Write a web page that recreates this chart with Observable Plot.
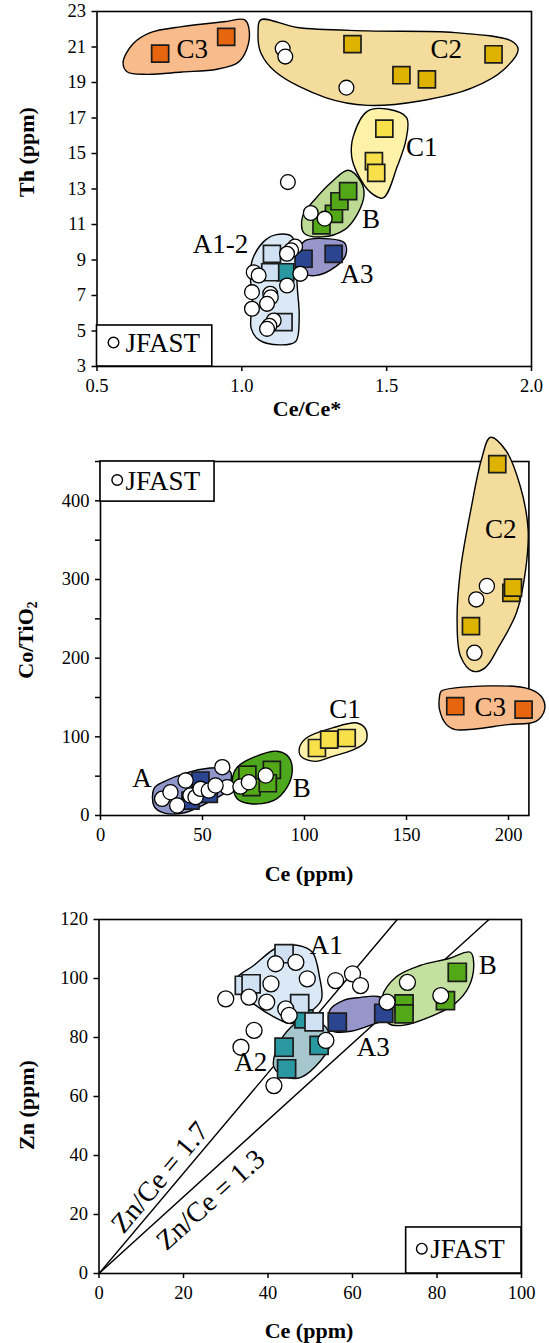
<!DOCTYPE html>
<html><head><meta charset="utf-8">
<script src="https://cdn.jsdelivr.net/npm/d3@7"></script>
<script src="https://cdn.jsdelivr.net/npm/@observablehq/plot@0.6"></script>
<style>
body{margin:0;background:#fff;}
#chart svg{display:block;}
</style></head><body><div id="chart"></div>
<script>
// ---------- Panel 1: Th vs Ce/Ce* ----------
const p1_C3 = [[0.718,20.63],[0.946,21.57]];
const p1_C2 = [[1.382,21.16],[1.551,19.41],[1.639,19.18],[1.869,20.59]];
const p1_C1 = [[1.492,16.40],[1.456,14.57],[1.464,13.91]];
const p1_B  = [[1.275,10.95],[1.318,11.60],[1.337,12.31],[1.367,12.88]];
const p1_A3 = [[1.213,9.07],[1.317,9.35]];
const p1_A2 = [[1.150,8.31]];
const p1_A1 = [[1.104,9.35],[1.098,8.31],[1.144,5.50]];
const p1_JFAST = [[1.141,20.91],[1.150,20.46],[1.361,18.71],[1.159,13.39],[1.238,11.65],[1.286,11.33],
  [1.184,9.76],[1.170,9.55],[1.156,9.35],[1.202,8.22],[1.041,8.31],[1.058,8.13],[1.156,7.56],[1.035,7.19],
  [1.098,7.10],[1.100,6.90],[1.087,6.53],[1.035,6.25],[1.110,5.59],[1.095,5.30],[1.087,5.12]];
const p1_hullC3 = [[0.590,20.12],[0.623,21.16],[0.684,21.81],[0.793,22.15],[0.938,22.42],[1.010,22.53],[1.025,22.00],[1.017,20.87],[0.986,20.12],[0.914,19.75],[0.793,19.59],[0.672,19.46],[0.605,19.59]];
const p1_hullC2 = [[1.065,22.53],[1.192,22.10],[1.434,21.91],[1.736,21.81],[1.930,21.34],[1.954,20.87],[1.906,19.75],[1.797,18.71],[1.615,17.96],[1.434,17.71],[1.289,18.15],[1.119,19.56],[1.065,20.69],[1.056,21.81]];
const p1_hullC1 = [[1.434,17.39],[1.506,17.49],[1.569,17.02],[1.567,15.79],[1.537,14.29],[1.488,12.50],[1.446,12.78],[1.398,13.91],[1.379,14.85],[1.385,15.98]];
const p1_hullB  = [[1.367,14.06],[1.410,13.44],[1.422,12.69],[1.398,11.56],[1.355,10.71],[1.277,10.30],[1.214,10.53],[1.210,11.47],[1.252,12.41],[1.313,13.44]];
const p1_hullA3 = [[1.216,10.06],[1.301,10.19],[1.355,9.96],[1.359,9.30],[1.325,8.64],[1.252,8.12],[1.202,8.36],[1.198,9.40]];
const p1_hullA12 = [[1.119,10.43],[1.174,10.30],[1.186,8.83],[1.192,7.33],[1.198,5.82],[1.186,4.41],[1.131,4.22],[1.059,4.50],[1.032,5.16],[1.037,6.76],[1.029,8.27],[1.041,9.21],[1.083,10.15]];
const p1_labelText = ["C3","C2","C1","B","A1-2","A3"];
const p1_labelX = [0.829,1.706,1.621,1.446,0.926,1.398];
const p1_labelY = [20.87,20.87,15.32,11.28,9.87,8.17];
const p1_xTicks = [0.5,1.0,1.5,2.0];
const p1_yTicks = [3,5,7,9,11,13,15,17,19,21,23];

// ---------- Panel 2: Co/TiO2 vs Ce ----------
const p2_C2 = [[194.5,446.7],[201.4,283],[202.2,289.6],[181.6,240.8]];
const p2_C3 = [[173.9,138.9],[207.4,134.6]];
const p2_C1 = [[106.1,85.8],[112.1,96.4],[120.7,98.5]];
const p2_B  = [[72,52],[84,58],[74,36],[82,41]];
const p2_A  = [[49,44.5],[53.1,27.6],[44.1,19]];
const p2_JFAST = [[30.2,21.2],[34.3,29.6],[41.7,44.5],[37.6,12.7],[44.1,25.4],[46.6,23.3],[49,33.9],[53.1,31.8],
  [59.7,61.4],[62.1,36],[68.6,36.8],[72.7,42.3],[81,50.8],[56.4,38.1],[189.4,291.7],[184.2,274.7],[183.3,206.8]];
const p2_hullC2 = [[191.1,480.7],[198.8,463.7],[205.7,419.1],[209.6,363.9],[208.2,308.7],[203.9,257.7],[195.4,215.3],[188.5,187.7],[182.5,183.4],[176.5,202.5],[174.8,249.3],[176.5,312.9],[181.6,389.4],[186.8,453.1]];
const p2_hullC3 = [[167,158],[173.9,162.2],[208.2,162.2],[216,151.6],[217.7,134.6],[213.4,119.7],[199.7,115.5],[173.9,109.1],[169.6,115.5],[166.2,134.6],[166.2,151.6]];
const p2_hullC1 = [[97.5,85.8],[100.9,98.5],[113.8,111.3],[125.8,117.6],[130.1,109.1],[130.1,94.3],[124.1,83.7],[113.8,75.2],[105.2,68.8],[98.3,75.2]];
const p2_hullB  = [[64.6,44.5],[67,61.4],[75.2,74.1],[86.6,81.7],[92.3,74.1],[94,57.2],[91.5,36],[85,19.1],[73.5,14.9],[67,21.2]];
const p2_hullA  = [[26.3,34.8],[31.4,43.3],[41.7,53.9],[53.7,60.3],[60.6,60.3],[64,53.9],[62.3,32.7],[53.7,17.8],[41.7,3.8],[31.4,3],[26.3,11.5]];
const p2_labelText = ["A","B","C1","C2","C3"];
const p2_labelX = [20.3,98.7,119.8,196.2,191.1];
const p2_labelY = [47.6,34.8,134.6,363.9,138];
const p2_xTicks = [0,50,100,150,200];
const p2_yTicks = [0,50,100,150,200,250,300,350,400,450];

// ---------- Panel 3: Zn vs Ce ----------
const p3_A1 = [[43.8,108.4],[34.4,97.7],[36.0,98.2],[47.5,91.5],[50.9,85.3]];
const p3_A2 = [[48.5,86.3],[43.8,76.7],[44.4,69.4],[52.1,77.3]];
const p3_A3 = [[56.4,85.2],[67.4,88.2]];
const p3_B  = [[84.8,102.1],[72.2,91.4],[72.2,88],[82,92.5]];
const p3_JFAST = [[30,93.1],[35.5,93.7],[40.7,98.2],[39.7,92],[41.8,105],[46.6,105.5],[49.3,99.9],[44.2,89.7],
  [45,87.5],[36.7,82.4],[33.6,76.7],[41.4,63.7],[53.7,79],[56,99.3],[60,101.6],[61.9,97.6],[73,98.7],[80.9,94.2],[68.2,92]];
const p3_hullA1 = [[32.5,99.9],[36.6,104.4],[42.3,110.6],[47.2,111.2],[50.5,108.9],[52.2,100.5],[52.6,92.6],[48.9,87.5],[45.6,84.7],[41.5,86.9],[36.6,91.4],[33.3,96]];
const p3_hullA2 = [[41.4,69.9],[44.6,66.5],[47.8,66.5],[52.5,72.2],[54.8,77.9],[53.7,83.5],[49.3,86.9],[45.4,83.5],[42.2,76.7]];
const p3_hullA3 = [[54.6,89.2],[57.9,92.6],[61.9,93.6],[66.1,93.9],[69.3,91.4],[69.5,87.2],[65.1,84.6],[59.6,82.1],[55.1,82.4]];
const p3_hullB  = [[67,93.7],[70.3,100.5],[76,104.4],[82.6,106.7],[87.9,108.9],[88.7,105],[87.5,97.1],[84.2,91.4],[80.1,88.1],[71.9,84.1],[68.6,84.7],[67.4,88.1]];
const p3_labelText = ["A1","A2","A3","B"];
const p3_labelX = [53.8,35.9,64.9,92.0];
const p3_labelY = [111.2,71.7,76.8,104.4];
const p3_ratios = [1.7, 1.3];
const p3_ratioText = ["Zn/Ce = 1.7","Zn/Ce = 1.3"];
const p3_ratioLabelX = [14.4, 26.4];
const p3_ratioLabelY = [32.6, 25.0];
const p3_ratioRotate = [-50, -42];
const p3_xTicks = [0,20,40,60,80,100];
const p3_yTicks = [0,20,40,60,80,100,120];

// ---------- colours ----------
const col = {
  C3h:"#F8BC8C", C3s:"#E8650F",
  C2h:"#F3DC9C", C2s:"#DDB200",
  C1h:"#FFF2A8", C1s:"#F7E04A",
  Bh:"#BCDA94", Bh2:"#4EA81E", Bs:"#52A817",
  A3h:"#9696CA", A3s:"#2C4590",
  A1h:"#DAE9F5", A1s:"#CFE1F2",
  A2h:"#A6C6CE", A2s:"#2A98A0",
  Ah:"#8E96CA"
};
const FONT = "'Liberation Serif','Times New Roman',serif";

function labelRows(t, xs, ys){ return t.map((s,i)=>({t:s, x:xs[i], y:ys[i]})); }

function panel(o){
  const marks = [];
  marks.push(Plot.frame({stroke:"black", strokeWidth:1.6}));
  marks.push(Plot.axisX({ticks:o.xTicks, tickFormat:o.xFmt, tickSize:5, tickPadding:7, fontSize:18.5, label:null, strokeWidth:1.5}));
  marks.push(Plot.axisY({ticks:o.yTicks, tickFormat:o.yFmt, tickSize:5, tickPadding:6, fontSize:18.5, label:null, strokeWidth:1.5}));
  (o.extra||[]).forEach(m=>marks.push(m));
  o.hulls.forEach(h=>marks.push(Plot.line(h.pts,{x:d=>d[0], y:d=>d[1], curve:"catmull-rom-closed", fill:h.fill, stroke:"black", strokeWidth:1.4})));
  o.squares.forEach(s=>marks.push(Plot.dot(s.pts,{x:d=>d[0], y:d=>d[1], symbol:"square", r:o.rs, fill:s.fill, stroke:"#1c1c1c", strokeWidth:1.7})));
  marks.push(Plot.dot(o.circles,{x:d=>d[0], y:d=>d[1], r:o.rc, fill:"white", stroke:"black", strokeWidth:1.3}));
  marks.push(Plot.text(o.labels,{x:"x", y:"y", text:"t", fontSize:27, fill:"black"}));
  (o.after||[]).forEach(m=>marks.push(m));
  const L = o.legend;
  marks.push(Plot.rect([L],{x1:"x1", x2:"x2", y1:"y1", y2:"y2", fill:"white", stroke:"black", strokeWidth:1.6}));
  marks.push(Plot.dot([L],{x:"cx", y:"cy", r:5.3, fill:"white", stroke:"black", strokeWidth:1.4}));
  marks.push(Plot.text([L],{x:"tx", y:"cy", text:()=> "JFAST", textAnchor:"start", fontSize:27, fill:"black", dy:1}));
  marks.push(Plot.text([o.yTitle],{frameAnchor:"left", textAnchor:"middle", lineAnchor:"middle", rotate:-90, fontSize:22, fontWeight:"bold", fill:"black"}));
  marks.push(Plot.text([o.xTitle],{frameAnchor:"bottom", textAnchor:"middle", lineAnchor:"middle", fontSize:22, fontWeight:"bold", fill:"black"}));
  const svg = Plot.plot({
    width:549, height:o.height,
    marginLeft:o.m[0], marginRight:o.m[1], marginTop:o.m[2], marginBottom:o.m[3],
    x:{domain:o.xDomain}, y:{domain:o.yDomain},
    style:{fontFamily:FONT, fontSize:"18px", color:"black", background:"white", overflow:"visible"},
    marks
  });
  return svg;
}

// place a title so that its visual centre lands on (cx, cy) in SVG pixels
function placeTitle(svg, str, cx, cy){
  const sr = svg.getBoundingClientRect();
  svg.querySelectorAll("text").forEach(el=>{
    if (el.textContent !== str) return;
    const r = el.getBoundingClientRect();
    const ox = r.left + r.width/2 - sr.left, oy = r.top + r.height/2 - sr.top;
    const t = el.getAttribute("transform") || "";
    el.setAttribute("transform", `translate(${cx-ox},${cy-oy}) ${t}`);
  });
}

const chart = document.getElementById("chart");

const s1 = chart.appendChild(panel({
  height:420, m:[96.5,18,11,54],
  xDomain:[0.5,2.0], yDomain:[3,23],
  xTicks:p1_xTicks, yTicks:p1_yTicks, xFmt:d3.format(".1f"), yFmt:d=>d,
  hulls:[{pts:p1_hullC3,fill:col.C3h},{pts:p1_hullC2,fill:col.C2h},{pts:p1_hullC1,fill:col.C1h},
         {pts:p1_hullB,fill:col.Bh},{pts:p1_hullA12,fill:col.A1h},{pts:p1_hullA3,fill:col.A3h}],
  squares:[{pts:p1_C3,fill:col.C3s},{pts:p1_C2,fill:col.C2s},{pts:p1_C1,fill:col.C1s},{pts:p1_B,fill:col.Bs},
           {pts:p1_A3,fill:col.A3s},{pts:p1_A2,fill:col.A2s},{pts:p1_A1,fill:col.A1s}],
  rs:9.6, rc:7.4,
  circles:p1_JFAST,
  labels:labelRows(p1_labelText,p1_labelX,p1_labelY),
  legend:{x1:0.5,x2:0.898,y1:3,y2:5.31,cx:0.557,cy:4.35,tx:0.598},
  yTitle:"Th (ppm)", xTitle:"Ce/Ce*"
}));
placeTitle(s1, "Th (ppm)", 26, 152);
placeTitle(s1, "Ce/Ce*", 307, 408);

const s2 = chart.appendChild(panel({
  height:470, m:[100,20.6,41,75],
  xDomain:[0,210], yDomain:[0,450],
  xTicks:p2_xTicks, yTicks:p2_yTicks, xFmt:d=>d, yFmt:d=>(d%100===0?d:""),
  hulls:[{pts:p2_hullC2,fill:col.C2h},{pts:p2_hullC3,fill:col.C3h},{pts:p2_hullC1,fill:col.C1h},
         {pts:p2_hullB,fill:col.Bh2},{pts:p2_hullA,fill:col.Ah}],
  squares:[{pts:p2_C2,fill:col.C2s},{pts:p2_C3,fill:col.C3s},{pts:p2_C1,fill:col.C1s},{pts:p2_B,fill:col.Bs},{pts:p2_A,fill:col.A3s}],
  rs:9.6, rc:7.6,
  circles:p2_JFAST,
  labels:labelRows(p2_labelText,p2_labelX,p2_labelY),
  legend:{x1:0,x2:55.9,y1:399,y2:450,cx:8.2,cy:426.5,tx:12.3},
  yTitle:"Co/TiO2", xTitle:"Ce (ppm)"
}));
// subscript for TiO2
d3.select(s2).selectAll("text").each(function(){
  if (this.textContent === "Co/TiO2") {
    const el = d3.select(this);
    el.text("Co/TiO");
    el.append("tspan").attr("font-size","0.62em").attr("baseline-shift","-25%").text("2");
  }
});
placeTitle(s2, "Co/TiO2", 26, 220);
placeTitle(s2, "Ce (ppm)", 309, 453);

const ratioLines = p3_ratios.flatMap(r=>[{k:r, x:0, y:0},{k:r, x:120/r, y:120}]);
const s3 = chart.appendChild(panel({
  height:453, m:[98.5,28,29,70],
  xDomain:[0,100], yDomain:[0,120],
  xTicks:p3_xTicks, yTicks:p3_yTicks, xFmt:d=>d, yFmt:d=>d,
  extra:[Plot.line(ratioLines,{x:"x", y:"y", z:"k", stroke:"black", strokeWidth:1.4})],
  hulls:[{pts:p3_hullA1,fill:col.A1h},{pts:p3_hullA2,fill:col.A2h},{pts:p3_hullA3,fill:col.A3h},{pts:p3_hullB,fill:"#C4E0A0"}],
  squares:[{pts:p3_A2,fill:col.A2s},{pts:p3_A1,fill:col.A1s},{pts:p3_A3,fill:col.A3s},{pts:p3_B,fill:col.Bs}],
  rs:10.2, rc:8,
  circles:p3_JFAST,
  labels:labelRows(p3_labelText,p3_labelX,p3_labelY),
  after:[Plot.text(p3_ratioText.map((t,i)=>({t, x:p3_ratioLabelX[i], y:p3_ratioLabelY[i], r:p3_ratioRotate[i]})),
          {x:"x", y:"y", text:"t", rotate:"r", fontSize:28, fill:"black"})],
  legend:{x1:72.7,x2:100,y1:0,y2:15.6,cx:76.4,cy:8.4,tx:78.4},
  yTitle:"Zn (ppm)", xTitle:"Ce (ppm)"
}));
placeTitle(s3, "Zn (ppm)", 26, 215);
placeTitle(s3, "Ce (ppm)", 309, 440);
</script>
</body></html>
